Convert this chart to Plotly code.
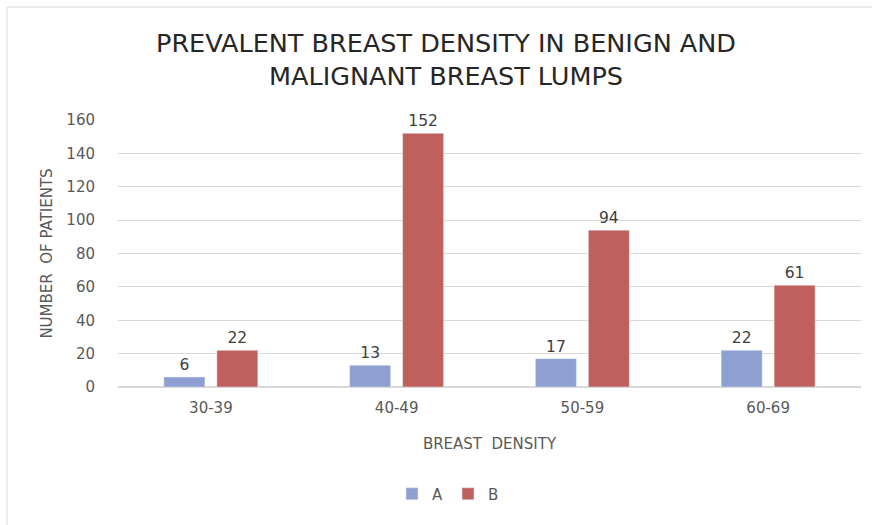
import plotly.graph_objects as go

categories = ["30-39", "40-49", "50-59", "60-69"]
series_a = [6, 13, 17, 22]
series_b = [22, 152, 94, 61]
y_ticks = [0, 20, 40, 60, 80, 100, 120, 140, 160]

FONT = "DejaVu Sans, sans-serif"
TXT = "#595959"

fig = go.Figure()
fig.add_trace(go.Bar(name="A", x=categories, y=series_a, marker_color="#8E9FD1",
                     text=series_a, textposition="outside", cliponaxis=False,
                     textfont=dict(size=15.5, color="#404040", family=FONT)))
fig.add_trace(go.Bar(name="B", x=categories, y=series_b, marker_color="#C0605C",
                     text=series_b, textposition="outside", cliponaxis=False,
                     textfont=dict(size=15.5, color="#404040", family=FONT)))

W, H = 872, 525
L, R, T, B = 118, 11, 120, 138
pw, ph = W - L - R, H - T - B

def px_x(p):
    return (p - L) / pw

def px_y(p):
    return (H - B - p) / ph

fig.update_layout(
    width=W, height=H,
    margin=dict(l=L, r=R, t=T, b=B),
    paper_bgcolor="white", plot_bgcolor="white",
    barmode="group", bargap=0.43, bargroupgap=0.226,
    title=dict(text="PREVALENT BREAST DENSITY IN BENIGN AND<br>MALIGNANT BREAST LUMPS",
               x=446 / W, xanchor="center", y=1 - 52 / H, yanchor="middle",
               font=dict(size=25.5, color="#262626", family=FONT)),
    font=dict(family=FONT, color=TXT, size=15),
    showlegend=True,
    legend=dict(orientation="h", x=px_x(448), xanchor="center", y=px_y(494), yanchor="middle",
                font=dict(size=15, color=TXT), itemwidth=30, tracegroupgap=0),
    xaxis=dict(title=dict(text="BREAST\u00a0 DENSITY", font=dict(size=15, color=TXT), standoff=22),
               showline=False, ticks="", ticklabelstandoff=10, tickfont=dict(size=15, color=TXT)),
    yaxis=dict(title=dict(text="NUMBER\u00a0 OF PATIENTS", font=dict(size=15, color=TXT), standoff=10),
               range=[0, 160], tickvals=y_ticks, showgrid=True, gridcolor="#D9D9D9",
               zeroline=True, zerolinecolor="#D9D9D9", ticks="",
               ticklabelstandoff=22, tickfont=dict(size=15, color=TXT)),
    shapes=[dict(type="rect", xref="paper", yref="paper",
                 x0=px_x(7), x1=px_x(885), y0=px_y(540), y1=px_y(7),
                 line=dict(color="#D9D9D9", width=1), fillcolor="rgba(0,0,0,0)", layer="below")],
)

fig.write_html("out.html", config={"displayModeBar": False},
               post_script="document.body.style.margin='0';document.body.style.overflow='hidden';")
